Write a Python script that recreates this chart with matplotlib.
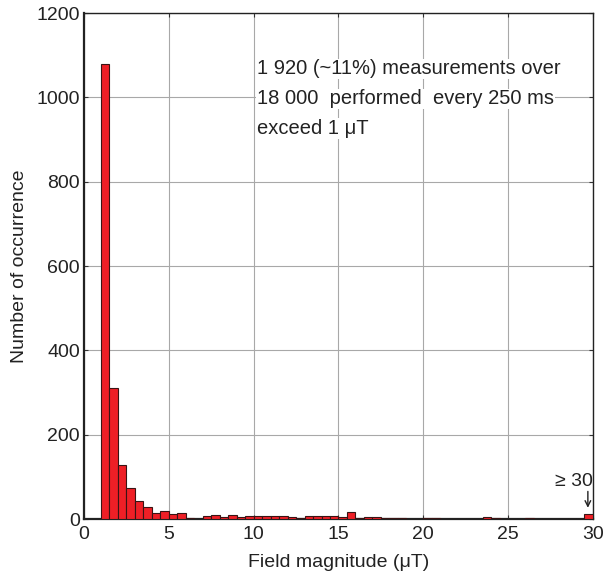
import matplotlib.pyplot as plt
import numpy as np

plt.rcParams['font.family'] = ['Liberation Sans', 'DejaVu Sans']

# histogram of field magnitude, 0.5 uT bins starting at 1 uT (last bin = >= 30)
bin_left = np.arange(1.0, 30.0, 0.5)
counts = [1080, 310, 128, 73, 43, 28, 14, 20, 12, 14,
          2, 1, 7, 9, 5, 9, 5, 7, 6, 6,
          6, 7, 5, 2, 6, 6, 6, 6, 4, 16,
          2, 5, 5, 2, 3, 3, 1, 0, 2, 2,
          1, 1, 1, 1, 1, 5, 2, 0, 0, 0,
          2, 1, 1, 1, 1, 1, 1, 11]

xticks = [0, 5, 10, 15, 20, 25, 30]
yticks = [0, 200, 400, 600, 800, 1000, 1200]

note_lines = ["1 920 (~11%) measurements over",
              "18 000  performed  every 250 ms",
              "exceed 1 \u03bcT"]

fig = plt.figure(figsize=(6.05, 5.74), dpi=100)
ax = fig.add_axes([0.1388, 0.0958, 0.8413, 0.8815])

ax.bar(bin_left, counts, width=0.5, align='edge', color='#ee1f26',
       edgecolor='#3a1414', linewidth=0.8, zorder=3)

ax.set_xlim(0, 30)
ax.set_ylim(0, 1200)
ax.set_xticks(xticks)
ax.set_yticks(yticks)
ax.grid(True, color='#a8a8a8', linewidth=0.8, zorder=0)
ax.tick_params(direction='in', top=True, right=True, labelsize=14,
               length=3, color='#333333', labelcolor='#222222')
ax.tick_params(axis='x', pad=5)
ax.tick_params(axis='y', pad=3)
for s in ax.spines.values():
    s.set_color('#222222')
    s.set_linewidth(1.0)
ax.spines['bottom'].set_linewidth(1.6)
ax.spines['left'].set_linewidth(1.6)

ax.set_xlabel('Field magnitude (\u03bcT)', fontsize=14, labelpad=8,
              color='#222222')
ax.set_ylabel('Number of occurrence', fontsize=14, labelpad=6,
              color='#222222')

for i, line in enumerate(note_lines):
    ax.text(10.2, 1068 - i * 71, line, fontsize=14.5, va='center', ha='left',
            color='#222222', zorder=5,
            bbox=dict(facecolor='white', edgecolor='none', pad=0.5))

ax.text(28.9, 88, '\u2265 30', fontsize=14, ha='center', va='center',
        color='#222222', zorder=5)
ax.annotate('', xy=(29.7, 20), xytext=(29.7, 72),
            arrowprops=dict(arrowstyle='->', color='#222222', lw=1.0), zorder=5)

fig.savefig('out.png', dpi=100)
